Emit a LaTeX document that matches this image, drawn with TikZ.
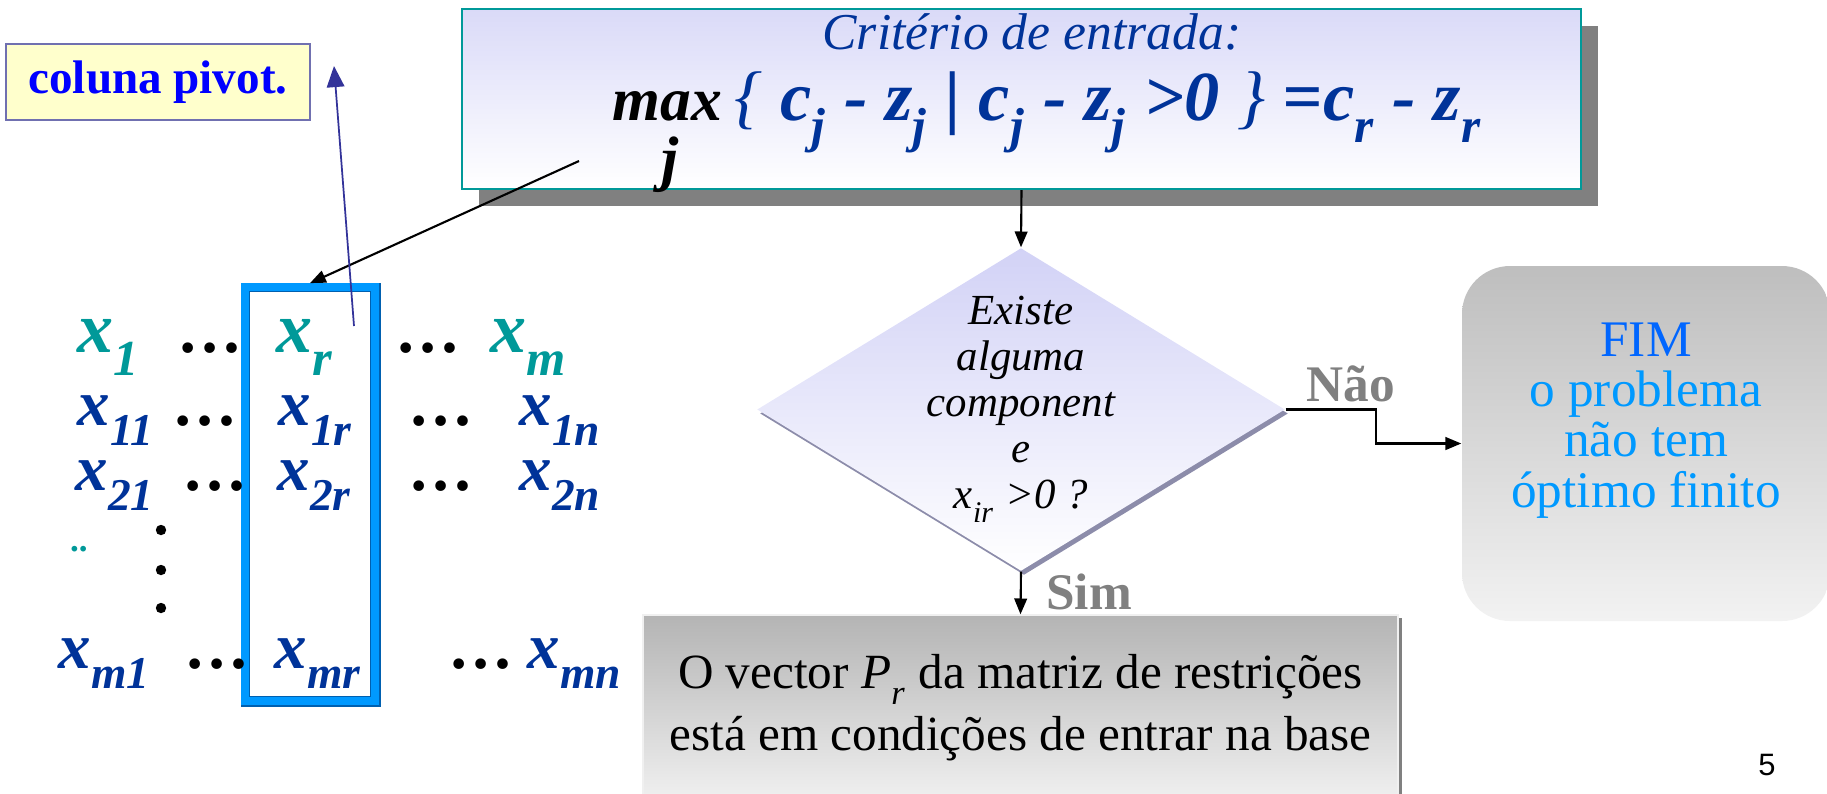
\documentclass[tikz,border=0pt]{standalone}
\usepackage{fontspec}
\setmainfont{Liberation Serif}
\newfontfamily\pagefont{Liberation Sans}
\usepackage{tikz}
\usetikzlibrary{calc,arrows.meta,shapes.geometric,shadows,positioning}
\definecolor{sx-teal}{HTML}{009999}
\definecolor{sx-navy}{HTML}{003399}
\definecolor{sx-lav}{HTML}{DADAF8}
\definecolor{sx-lavd}{HTML}{D2D2F6}
\definecolor{sx-dshadow}{HTML}{8C8CAA}
\definecolor{sx-frame}{HTML}{0099FF}
\definecolor{sx-framedk}{HTML}{0060B0}
\definecolor{sx-note}{HTML}{FFFFCC}
\definecolor{sx-notedraw}{HTML}{7070B0}
\definecolor{sx-pen}{HTML}{333399}
\definecolor{sx-sky}{HTML}{0099FF}
\definecolor{sx-azure}{HTML}{0066FF}
\definecolor{sx-grey1}{HTML}{BEBEBE}
\definecolor{sx-grey2}{HTML}{F2F2F2}
\definecolor{sx-grey3}{HTML}{B4B4B4}
\definecolor{sx-grey4}{HTML}{F0F0F0}
\newcommand\lsub[1]{\raisebox{-0.17em}{\textsubscript{#1}}}

\begin{document}
\begin{tikzpicture}[
    ent/.style={anchor=base west, inner sep=0pt, text=sx-navy, font=\fontsize{18.5}{20}\selectfont\bfseries\itshape},
    hdr/.style={ent, text=sx-teal, font=\fontsize{20.5}{22}\selectfont\bfseries\itshape},
    dots/.style={anchor=base, inner sep=0pt, font=\fontsize{18.5}{20}\selectfont\bfseries},
    fml/.style={anchor=base west, inner sep=0pt, text=sx-navy, font=\fontsize{20}{22}\selectfont\bfseries\itshape},
    flow/.style={-{Triangle[length=4.5pt,width=3.6pt]}, line width=0.6pt},
    yesno/.style={text=gray, font=\fontsize{14.6}{16}\selectfont\bfseries}
]
    \useasboundingbox (0,0) rectangle (18.27,-7.93);

    % criterio de entrada
    \node[draw=sx-teal, line width=0.6pt, top color=sx-lav, bottom color=white,
          minimum width=11.19cm, minimum height=1.80cm,
          drop shadow={shadow xshift=1.7mm, shadow yshift=-1.7mm, fill=gray, opacity=1}] (crit) at (10.215,-0.99) {};
    \node[anchor=base, text=sx-navy, font=\fontsize{14.7}{16}\selectfont\itshape] (crithead) at (10.32,-0.49) {Critério de entrada:};
    \node[fml, text=black, font=\fontsize{17.5}{20}\selectfont\bfseries\itshape] (max) at (6.12,-1.20) {max};
    \node[fml, anchor=base, text=black, font=\fontsize{17.5}{20}\selectfont\bfseries\itshape] (maxj) at (6.70,-1.79) {j};
    \node[fml] (critexpr) at (7.34,-1.20) {{\mdseries\{} c\lsub{j} - z\lsub{j} | c\lsub{j} - z\lsub{j} >0 {\mdseries\}} =c\lsub{r} - z\lsub{r}};

    % coluna pivot
    \node[draw=sx-notedraw, fill=sx-note, line width=0.6pt, minimum width=3.04cm, minimum height=0.76cm,
          text=blue, font=\fontsize{13.4}{15}\selectfont\bfseries] (pivot) at (1.58,-0.82) {coluna pivot.};

    % matriz
    \node[draw=sx-frame, line width=2.2pt, minimum width=1.30cm, minimum height=4.14cm] (colframe) at (3.10,-4.94) {};
    \draw[sx-framedk, line width=0.5pt] ([shift={(2.4pt,-2.4pt)}]colframe.north west) rectangle ([shift={(-2.4pt,2.4pt)}]colframe.south east);
    \draw[sx-framedk, line width=0.6pt] ([xshift=0.3pt]colframe.north east) |- ([yshift=-0.3pt]colframe.south west);

    \node[hdr] (x1) at (0.77,-3.52) {x\lsub{1}};
    \node[dots] (d11) at (2.10,-3.52) {…};
    \node[hdr] (xr) at (2.76,-3.52) {x\lsub{r}};
    \node[dots] (d12) at (4.28,-3.52) {…};
    \node[hdr] (xm) at (4.90,-3.52) {x\lsub{m}};

    \node[ent] (x11) at (0.77,-4.25) {x\lsub{11}};
    \node[dots] (d21) at (2.05,-4.25) {…};
    \node[ent] (x1r) at (2.78,-4.25) {x\lsub{1r}};
    \node[dots] (d22) at (4.41,-4.25) {…};
    \node[ent] (x1n) at (5.19,-4.25) {x\lsub{1n}};

    \node[ent] (x21) at (0.75,-4.90) {x\lsub{21}};
    \node[dots] (d31) at (2.15,-4.90) {…};
    \node[ent] (x2r) at (2.77,-4.90) {x\lsub{2r}};
    \node[dots] (d32) at (4.41,-4.90) {…};
    \node[ent] (x2n) at (5.19,-4.90) {x\lsub{2n}};

    \node[anchor=base, text=sx-teal, font=\fontsize{10}{12}\selectfont\bfseries] (tdots) at (0.79,-5.51) {..};
    \foreach \y in {-5.30,-5.70,-6.08}
        \fill (1.61,\y) circle (0.052);

    \node[ent] (xm1) at (0.58,-6.68) {x\lsub{m1}};
    \node[dots] (d51) at (2.17,-6.68) {…};
    \node[ent] (xmr) at (2.74,-6.68) {x\lsub{mr}};
    \node[dots] (d52) at (4.81,-6.68) {…};
    \node[ent] (xmn) at (5.27,-6.68) {x\lsub{mn}};

    % setas da coluna
    \coordinate (maxtail) at (5.79,-1.61);
    \draw[flow] (maxtail) -- (colframe.north);
    \coordinate (pvtail) at (3.54,-3.26);
    \coordinate (pvtip) at (3.34,-0.66);
    \draw[sx-pen, line width=0.5pt, -{Triangle[length=6pt,width=5pt]}] (pvtail) -- (pvtip);

    % decisao
    \node[diamond, top color=sx-lavd, bottom color=white, minimum width=5.28cm, minimum height=3.23cm, inner sep=0pt,
          drop shadow={shadow xshift=0.3mm, shadow yshift=-0.4mm, fill=sx-dshadow, opacity=1}] (dec) at (10.21,-4.095) {};
    \node[align=center, font=\fontsize{12.2}{13.1}\selectfont\itshape] (dectxt) at (dec.center) {Existe\\alguma\\component\\e\\x\lsub{ir} >0 ?};

    % fim
    \node[rounded corners=0.48cm, top color=sx-grey1, bottom color=sx-grey2, minimum width=3.68cm, minimum height=3.55cm] (fim) at (16.46,-4.435) {};
    \node[align=center, text=sx-sky, font=\fontsize{14.6}{14.3}\selectfont] (fimtxt) at ([yshift=0.23cm]fim.center) {\textcolor{sx-azure}{FIM}\\o problema\\não tem\\óptimo finito};

    % resultado
    \node[top color=sx-grey3, bottom color=sx-grey4, draw=sx-grey4, minimum width=7.55cm, minimum height=1.85cm,
          align=center, font=\fontsize{14}{17.6}\selectfont,
          drop shadow={shadow xshift=0.4mm, shadow yshift=-0.3mm, fill=gray, opacity=1}] (res) at (10.205,-7.075)
          {O vector \textit{P}\lsub{\textit{r}} da matriz de restrições\\está em condições de entrar na base};

    \draw[flow] (crit.south) -- (dec.north);
    \draw[flow] (dec.east) -- ++(0.90,0) |- (fim.west);
    \draw[flow] (dec.south) -- (res.north);
    \node[yesno] (nao) at (13.51,-3.84) {Não};
    \node[yesno] (sim) at (10.89,-5.92) {Sim};

    \node[font=\pagefont\fontsize{8.8}{10}\selectfont] (pgno) at (17.67,-7.65) {5};
\end{tikzpicture}
\end{document}
